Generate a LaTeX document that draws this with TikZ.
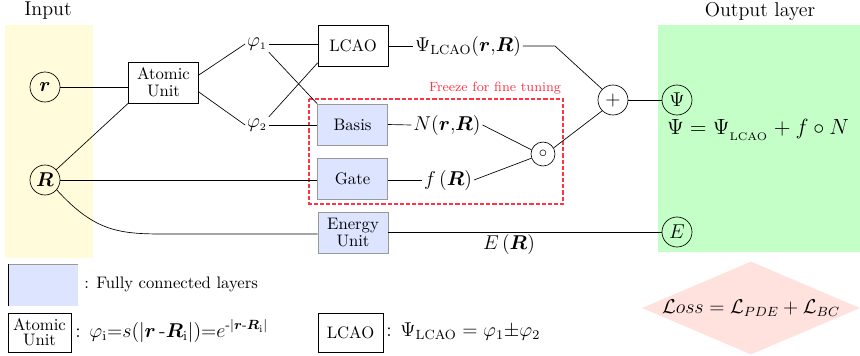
\documentclass[tikz,border=0pt]{standalone}
\usepackage{amsmath,bm}
\usetikzlibrary{shapes.geometric,calc}
\definecolor{inyellow}{RGB}{255,251,219}
\definecolor{outgreen}{RGB}{196,255,200}
\definecolor{fcblue}{RGB}{220,228,255}
\definecolor{losspink}{RGB}{255,225,222}
\definecolor{freezered}{RGB}{255,50,70}
\tikzset{
  unitbox/.style={draw, thin, minimum width=70*0.6pt, minimum height=41*0.6pt, inner sep=1pt, align=center, font=\normalsize},
  fcbox/.style={unitbox, fill=fcblue, draw=gray!80},
  neuron/.style={circle, draw, thin, minimum size=30*0.6pt, inner sep=0pt, font=\large},
  lbl/.style={inner sep=1pt, font=\large},
  conn/.style={thin},
}
\begin{document}
\begin{tikzpicture}[x=0.6pt,y=-0.6pt]
\useasboundingbox (0,0) rectangle (860,355);
% backgrounds
\fill[inyellow] (5,25) rectangle (93,258);
\fill[outgreen] (658,25) rectangle (860,252);
\node[font=\large] (inlbl) at (48,11) {Input};
\node[font=\large] (outlbl) at (760,11) {Output layer};
% inputs
\node[neuron] (r) at (45,87) {$\bm{r}$};
\node[neuron] (R) at (45,180) {$\bm{R}$};
% atomic unit
\node[unitbox] (atomic) at (163.5,82.5) {Atomic\\[-2pt]Unit};
\node[lbl] (phi1) at (257,44) {$\varphi_{\scriptscriptstyle 1}$};
\node[lbl] (phi2) at (257,125) {$\varphi_{\scriptscriptstyle 2}$};
% boxes
\node[unitbox] (lcao) at (353,46) {LCAO};
\node[fcbox] (basis) at (352.5,124.5) {Basis};
\node[fcbox] (gate) at (352.5,178.5) {Gate};
\node[fcbox] (energy) at (353,232.5) {Energy\\[-2pt]Unit};
% freeze region
\draw[draw=freezered, dash pattern=on 2.5pt off 1.2pt, line width=0.7pt] (309,99) -- (563,99) -- (563,204) -- (309,204) -- cycle;
\node[text=freezered, font=\footnotesize, anchor=south east, inner sep=1pt] (freeze) at (563,96) {Freeze for fine tuning};
% intermediate labels
\node[lbl] (psil) at (468,46) {$\Psi_{\mathrm{LCAO}}(\bm{r}{,}\bm{R})$};
\node[lbl] (N) at (447,125) {$N(\bm{r}{,}\bm{R})$};
\node[lbl] (f) at (448,180) {$f\,(\bm{R})$};
\node[lbl] (ER) at (509,244) {$E\,(\bm{R})$};
% operations
\node[circle, draw, thin, minimum size=24*0.6pt, inner sep=0pt] (circ) at (543,154) {$\circ$};
\node[neuron] (plus) at (613,100) {$+$};
% outputs
\node[neuron] (Psi) at (677,100) {$\Psi$};
\node[neuron] (E) at (677,232) {$E$};
\node[lbl, font=\large, scale=1.1, transform shape] (psieq) at (758,130) {$\Psi=\Psi_{_{\mathrm{LCAO}}}+f\circ N$};
% connectors
\draw[conn] (r) -- (atomic.west |- r);
\draw[conn] (R) -- (atomic.south west);
\draw[conn] (atomic.east |- 0,75) -- (phi1.west);
\draw[conn] (atomic.east |- 0,92) -- (phi2.west);
\draw[conn] (phi1.east) -- (lcao.west |- phi1.east);
\draw[conn] (phi1.south east) -- (basis.north west);
\draw[conn] (phi2.north east) -- ($(lcao.south west)+(0,-4)$);
\draw[conn] (phi2.east) -- (basis.west |- phi2.east);
\draw[conn] (R) -- (gate.west |- R);
\coordinate (ecurve) at (165,234);
\draw[conn] (R.-40) .. controls (95,232) and (120,234) .. (ecurve) -- (energy.west |- ecurve);
\draw[conn] (lcao.east) -- (psil.west);
\coordinate (pbend) at (555,46);
\draw[conn] (psil.east) -- (pbend) -- (plus.north west);
\draw[conn] (basis.east) -- (N.west);
\draw[conn] (gate.east |- f) -- (f.west);
\draw[conn] (N.east) -- (circ.160);
\draw[conn] (f.east) -- (circ.200);
\draw[conn] (circ.30) -- (plus.south west);
\draw[conn] (plus) -- (Psi);
\draw[conn] (energy.east |- E) -- (E);
% legend
\fill[fcblue] (8,264) rectangle (78,306);
\draw[gray!80, very thin] (8,264) -- (78,264);
\draw[thin] (8,264) -- (8,306);
\node[anchor=west, inner sep=0pt] (fcl) at (84,284) {: Fully connected layers};
\node[draw, thin, minimum width=63*0.6pt, minimum height=39*0.6pt, inner sep=1pt, align=center] (latomic) at (39.5,332.5) {Atomic\\[-3pt]Unit};
\node[anchor=west, inner sep=0pt, font=\large] (latx) at (75,331) {: $\varphi_{\mathrm{i}}{=}s(|\bm{r}\,\text{-}\bm{R}_{\mathrm{i}}|){=}e^{\text{-}|\bm{r}\text{-}\bm{R}_{\mathrm{i}}|}$};
\node[draw, thin, minimum width=65*0.6pt, minimum height=39*0.6pt, inner sep=1pt] (llcao) at (350.5,332.5) {LCAO};
\node[anchor=west, inner sep=0pt, font=\large] (llcaotx) at (386,332) {: $\Psi_{\mathrm{LCAO}}=\varphi_1{\pm}\varphi_2$};
% loss
\node[diamond, fill=losspink, minimum width=218*0.6pt, minimum height=93*0.6pt, inner sep=0pt, aspect=2.3] (loss) at (751,308) {};
\node[font=\large] (losstx) at (751,308) {$\mathcal{L}oss=\mathcal{L}_{PDE}+\mathcal{L}_{BC}$};
\end{tikzpicture}
\end{document}
